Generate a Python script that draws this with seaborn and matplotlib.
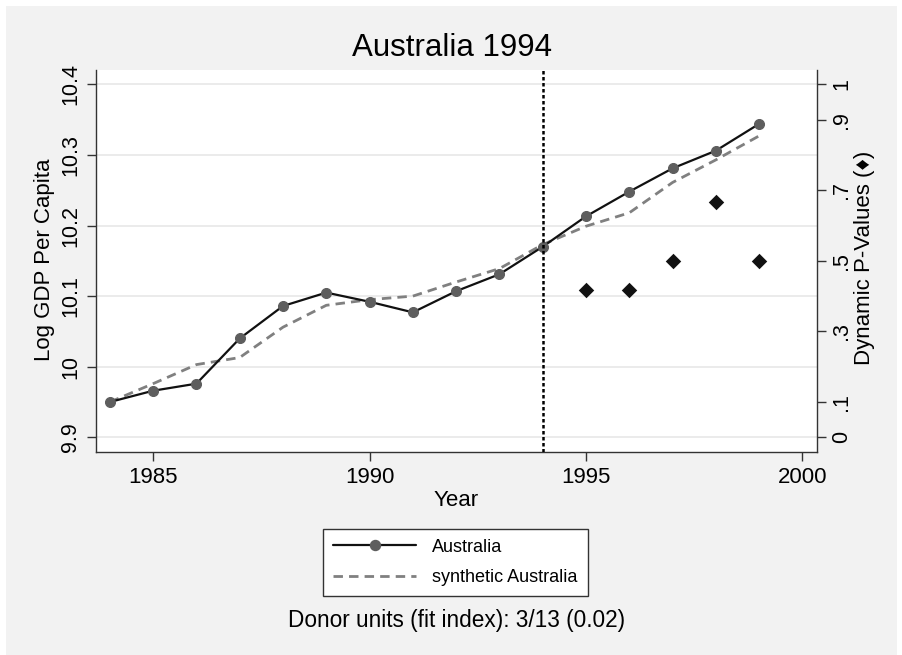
import numpy as np
import pandas as pd
import matplotlib
matplotlib.use("Agg")
import matplotlib.pyplot as plt
from matplotlib.patches import Rectangle
from matplotlib.lines import Line2D
import seaborn as sns

# ---- data ----
years = [1984, 1985, 1986, 1987, 1988, 1989, 1990, 1991,
         1992, 1993, 1994, 1995, 1996, 1997, 1998, 1999]
australia = [9.950, 9.966, 9.976, 10.040, 10.086, 10.105, 10.092, 10.077,
             10.107, 10.131, 10.170, 10.213, 10.248, 10.281, 10.306, 10.344]
synthetic = [9.950, 9.976, 10.003, 10.013, 10.056, 10.087, 10.095, 10.100,
             10.120, 10.139, 10.173, 10.199, 10.218, 10.261, 10.293, 10.327]
p_years = [1995, 1996, 1997, 1998, 1999]
p_values = [0.417, 0.417, 0.500, 0.667, 0.500]
treat_year = 1994

left_ticks = [9.9, 10.0, 10.1, 10.2, 10.3, 10.4]
left_ticklabels = ["9.9", "10", "10.1", "10.2", "10.3", "10.4"]
right_ticks = [0, 0.1, 0.3, 0.5, 0.7, 0.9, 1.0]
right_ticklabels = ["0", ".1", ".3", ".5", ".7", ".9", "1"]
x_ticks = [1985, 1990, 1995, 2000]

title = "Australia 1994"
xlabel = "Year"
ylabel = "Log GDP Per Capita"
ylabel2 = "Dynamic P-Values (\u2666)"
legend_labels = ["Australia", "synthetic Australia"]
note = "Donor units (fit index): 3/13 (0.02)"

df = pd.DataFrame({"year": years, "Australia": australia, "synthetic": synthetic})
dfp = pd.DataFrame({"year": p_years, "p": p_values})

sns.set_theme(style="white")
plt.rcParams['font.family'] = ['Liberation Sans', 'DejaVu Sans']
plt.rcParams['text.color'] = 'black'
plt.rcParams['xtick.color'] = 'black'
plt.rcParams['ytick.color'] = 'black'
plt.rcParams['axes.labelcolor'] = 'black'

W, H = 903, 655
fig = plt.figure(figsize=(W / 100, H / 100), dpi=100)
fig.patch.set_facecolor("white")
bg = "#f2f2f2"
fig.patches.append(Rectangle((6 / W, 0), (W - 12) / W, (H - 6) / H,
                             transform=fig.transFigure, facecolor=bg,
                             edgecolor="none", zorder=-10))

l, r, t, b = 96, 816.7, 70, 452
ax = fig.add_axes([l / W, 1 - b / H, (r - l) / W, (b - t) / H])
ax.set_facecolor("white")

# y-range mapping: 9.9 <-> 0, 10.4 <-> 1
ylo, yhi = 9.8792, 10.4203
ax.set_xlim(1983.68, 2000.33)
ax.set_ylim(ylo, yhi)

for yv in left_ticks:
    ax.axhline(yv, color="#e9e9e9", lw=1.3, zorder=0)

sns.lineplot(data=df, x="year", y="synthetic", ax=ax, color="#808080",
             lw=2.0, dashes=False, zorder=3)
ax.lines[-1].set_dashes((3.4, 2.2))
sns.lineplot(data=df, x="year", y="Australia", ax=ax, color="#111111",
             lw=1.6, marker="o", markersize=7.2, markerfacecolor="#5e5e5e",
             markeredgecolor="#5e5e5e", zorder=4)
ax.axvline(treat_year, color="black", lw=1.8, dashes=(1.4, 1.0), zorder=5)

ax.set_xticks(x_ticks)
ax.set_xticklabels([str(v) for v in x_ticks], fontsize=16, color="black")
ax.set_yticks(left_ticks)
ax.set_yticklabels(left_ticklabels, fontsize=15.5, rotation=90, va="center",
                   color="black")
ax.tick_params(axis="both", direction="out", length=6.5, width=1.0,
               color="#333333", pad=4, left=True, bottom=True)
ax.set_xlabel("")
ax.set_ylabel("")
for s in ["top", "right"]:
    ax.spines[s].set_visible(False)
for s in ["left", "bottom"]:
    ax.spines[s].set_color("#333333")
    ax.spines[s].set_linewidth(1.0)

ax2 = ax.twinx()
ax2.set_ylim((ylo - 9.9) / 0.5, (yhi - 9.9) / 0.5)
sns.scatterplot(data=dfp, x="year", y="p", ax=ax2, marker="D", s=62,
                color="#111111", edgecolor="#111111", linewidth=0, zorder=6)
ax2.set_yticks(right_ticks)
ax2.set_yticklabels(right_ticklabels, fontsize=15.5, rotation=90, va="center",
                    color="black")
ax2.tick_params(axis="y", direction="out", length=6.5, width=1.0,
                color="#333333", pad=4, right=True)
ax2.set_ylabel("")
ax2.set_xlabel("")
for s in ["top", "left", "bottom"]:
    ax2.spines[s].set_visible(False)
ax2.spines["right"].set_color("#333333")
ax2.spines["right"].set_linewidth(1.0)
ax2.set_xlim(1983.68, 2000.33)

def fx(px):
    return px / W

def fy(py):
    return 1 - py / H

fig.text(fx(452), fy(48), title, fontsize=22.5, ha="center", va="center",
         color="black")
fig.text(fx(456), fy(500), xlabel, fontsize=16, ha="center", va="center",
         color="black")
fig.text(fx(45), fy(260), ylabel, fontsize=16, ha="center", va="center",
         rotation=90, color="black")
fig.text(fx(865), fy(258), ylabel2, fontsize=16, ha="center", va="center",
         rotation=90, family=['Liberation Sans', 'DejaVu Sans'], color="black")
fig.text(fx(456.5), fy(621), note, fontsize=16.3, ha="center", va="center",
         color="black")

handles = [
    Line2D([], [], color="#111111", lw=1.6, marker="o", markersize=7.2,
           markerfacecolor="#5e5e5e", markeredgecolor="#5e5e5e"),
    Line2D([], [], color="#808080", lw=2.0, dashes=(3.4, 2.2)),
]
leg = fig.legend(handles, legend_labels, loc="center",
                 bbox_to_anchor=(fx(455.5), fy(562.5)), fontsize=13,
                 frameon=True, fancybox=False, handlelength=4.6,
                 handletextpad=0.9, borderpad=0.55, labelspacing=0.75,
                 borderaxespad=0)
for txt in leg.get_texts():
    txt.set_color("black")
leg.get_frame().set_edgecolor("#333333")
leg.get_frame().set_linewidth(1.0)
leg.get_frame().set_facecolor("white")
leg.get_frame().set_alpha(1)

fig.savefig("out.png", dpi=100, facecolor=fig.get_facecolor())
